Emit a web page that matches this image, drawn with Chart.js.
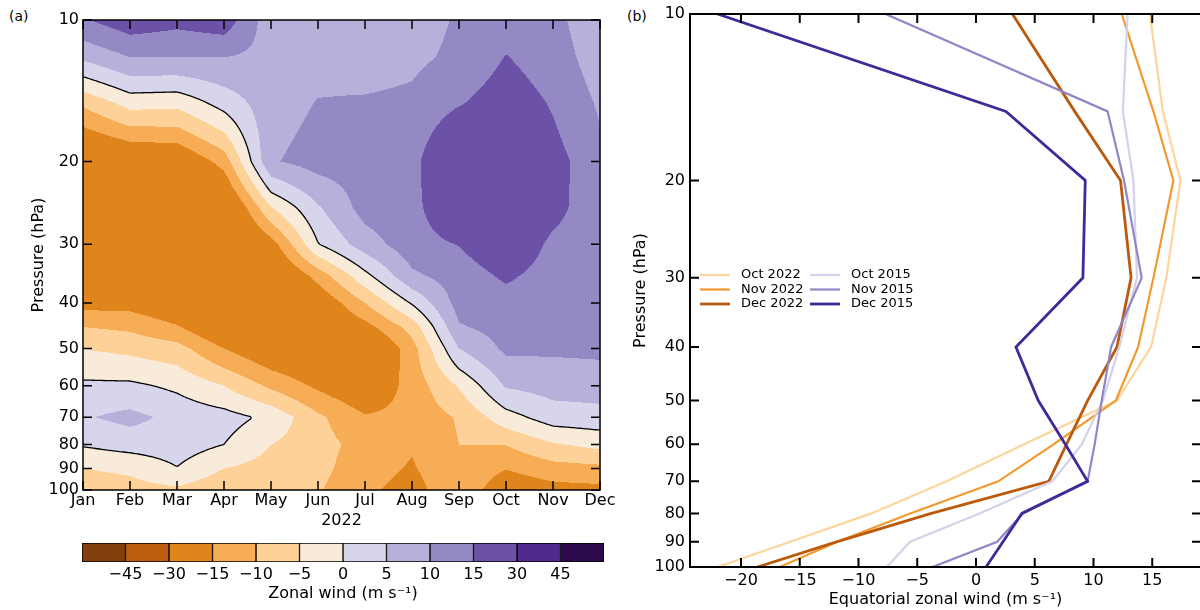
<!DOCTYPE html>
<html>
<head>
<meta charset="utf-8">
<script src="https://cdn.jsdelivr.net/npm/chart.js@4.4.1/dist/chart.umd.min.js"></script>
<style>
  html, body { margin: 0; padding: 0; background: #fff; width: 1200px; height: 610px; overflow: hidden; }
  canvas { position: absolute; }
  #windMap { left: 0; top: 0; }
  #windBar { left: 0; top: 530px; }
  #profiles { left: 620px; top: 0; }
  .panel { position: absolute; font: 14px "DejaVu Sans", sans-serif; color: #000; }
</style>
</head>
<body>
<div class="panel" style="left:9px; top:8px;">(a)</div>
<div class="panel" style="left:627px; top:8px;">(b)</div>
<canvas id="windMap" width="620" height="530"></canvas>
<canvas id="windBar" width="620" height="80"></canvas>
<canvas id="profiles" width="582" height="610"></canvas>
<script>
// ---- panel (a): monthly mean zonal wind 2022, by pressure level ----
const months = ['Jan', 'Feb', 'Mar', 'Apr', 'May', 'Jun', 'Jul', 'Aug', 'Sep', 'Oct', 'Nov', 'Dec'];
const levels = [10, 12, 15, 20, 25, 30, 35, 40, 45, 50, 60, 70, 80, 90, 100];
const uJan = [14.5, 6, -9, -25, -26, -26, -24, -17, -10, -5, 1, 4.5, 0.5, -5, -8];
const uFeb = [18, 10, -3, -22, -26, -27, -26, -17, -11, -6.3, 1, 6.5, 2, -4, -7];
const uMar = [16.5, 10, -3.5, -21, -26, -28, -27, -20, -14.5, -8, -1, 3.5, 2.5, -0.2, -6];
const uApr = [18, 10, 2, -13, -24, -28, -29, -26, -21, -15, -5, 2, 0, -5, -9];
const uMay = [7, 8.5, 8, 9.5, -5, -17.5, -24, -28, -29, -20, -11, -1.2, -5, -7, -10];
const uJun = [7.5, 8.5, 10.2, 12, 4.5, -0.2, -13, -20, -22, -22, -16, -9, -8, -8.5, -9.5];
const uJul = [7.5, 8, 10.5, 12, 12, 7.5, -1.5, -10, -17, -24, -20, -14.5, -12, -13, -14];
const uAug = [8, 9, 11, 13, 13.5, 13, 9, 0.5, -8, -12, -13, -13.5, -14.5, -15.5, -17];
const uSep = [10.5, 11, 14.5, 24, 20, 15.2, 12.5, 12, 9.5, 5, -4.5, -9.5, -10, -11, -11];
const uOct = [13, 15.2, 18, 21, 21, 19, 15.8, 13, 12, 11, 5.5, -2, -9.8, -14.8, -19];
const uNov = [11.5, 12.5, 14.5, 17, 16.5, 14, 13, 12.5, 12, 10.8, 7, 2.5, -5.5, -12, -17];
const uDec = [6.5, 7.5, 9.3, 11.5, 12, 12.5, 12.5, 12.5, 12, 11, 7.5, 3, -3.5, -11.3, -16.5];
const windGrid = [uJan, uFeb, uMar, uApr, uMay, uJun, uJul, uAug, uSep, uOct, uNov, uDec];

const windBounds = [-45, -30, -15, -10, -5, 0, 5, 10, 15, 30, 45];
const windColors = ['#84400c', '#bd5e0e', '#e0841c', '#f6ad55', '#fdd197', '#f8ebd9',
                    '#d6d5ec', '#b6b0da', '#9489c4', '#6c52a6', '#502a8d', '#2d0b4e'];
const cbarLabels = ['\u221245', '\u221230', '\u221215', '\u221210', '\u22125', '0', '5', '10', '15', '30', '45'];
const pressureTicks = [10, 20, 30, 40, 50, 60, 70, 80, 90, 100];

// ---- panel (b): equatorial zonal wind profiles ----
const profLevels = [10, 15, 20, 30, 40, 50, 60, 70, 80, 90, 100];
const oct2022 = [14.8, 15.9, 17.4, 16.2, 14.9, 12.0, 4.1, -2.5, -8.9, -15.8, -22.0];
const nov2022 = [12.4, 15.1, 16.8, 15.1, 13.8, 11.9, 6.6, 1.9, -5.6, -11.8, -16.7];
const dec2022 = [3.1, 8.4, 12.3, 13.2, 12.0, 9.5, 7.7, 6.2, -3.8, -11.8, -18.6];
const oct2015 = [12.9, 12.5, 13.4, 13.7, 12.2, 10.8, 9.0, 6.5, 0.3, -5.6, -7.6];
const nov2015 = [-7.7, 11.2, 12.6, 14.1, 11.5, 10.7, 10.1, 9.5, 4.0, 1.8, -3.7];
const dec2015 = [-22.0, 2.55, 9.3, 9.1, 3.4, 5.3, 7.6, 9.5, 3.9, 2.3, 0.85];
const windTicks = [-20, -15, -10, -5, 0, 5, 10, 15];

Chart.defaults.font.family = '"DejaVu Sans", sans-serif';
Chart.defaults.font.size = 16;
Chart.defaults.color = '#000';

const minusFmt = v => (v < 0 ? '\u2212' + Math.abs(v) : String(v));

function hexRgb(h) {
  return [parseInt(h.slice(1, 3), 16), parseInt(h.slice(3, 5), 16), parseInt(h.slice(5, 7), 16)];
}

function binOf(v) {
  let k = 0;
  while (k < windBounds.length && v >= windBounds[k]) k++;
  return k;
}

// bilinear in (month, pressure)
function windAt(m, p) {
  const i = Math.min(Math.max(Math.floor(m), 0), months.length - 2);
  const t = m - i;
  let j = 0;
  while (j < levels.length - 2 && p > levels[j + 1]) j++;
  const s = (p - levels[j]) / (levels[j + 1] - levels[j]);
  const a = windGrid[i][j], b = windGrid[i + 1][j];
  const c = windGrid[i][j + 1], d = windGrid[i + 1][j + 1];
  return (1 - t) * (1 - s) * a + t * (1 - s) * b + (1 - t) * s * c + t * s * d;
}

const contourPlugin = {
  id: 'contour',
  beforeDatasetsDraw(chart) {
    const { ctx, chartArea: ca, scales: { x, y } } = chart;
    const x0 = Math.round(ca.left), y0 = Math.round(ca.top);
    const w = Math.round(ca.right) - x0, h = Math.round(ca.bottom) - y0;
    const img = ctx.createImageData(w, h);
    const field = new Float32Array(w * h);
    const rgb = windColors.map(hexRgb);
    const mCol = [];
    for (let c = 0; c < w; c++) mCol.push(x.getValueForPixel(x0 + c + 0.5));
    for (let r = 0; r < h; r++) {
      const p = y.getValueForPixel(y0 + r + 0.5);
      for (let c = 0; c < w; c++) {
        const v = windAt(mCol[c], p);
        field[r * w + c] = v;
        const col = rgb[binOf(v)];
        const k = 4 * (r * w + c);
        img.data[k] = col[0]; img.data[k + 1] = col[1]; img.data[k + 2] = col[2]; img.data[k + 3] = 255;
      }
    }
    ctx.putImageData(img, x0, y0);

    // zero wind line, marching squares on the sampled field
    const st = 2;
    const f = (c, r) => field[Math.min(r, h - 1) * w + Math.min(c, w - 1)];
    ctx.save();
    ctx.beginPath();
    for (let r = 0; r < h - 1; r += st) {
      for (let c = 0; c < w - 1; c += st) {
        const c2 = Math.min(c + st, w - 1), r2 = Math.min(r + st, h - 1);
        const a = f(c, r), b = f(c2, r), cc = f(c2, r2), d = f(c, r2);
        const pts = [];
        if ((a >= 0) !== (b >= 0)) pts.push([c + (c2 - c) * a / (a - b), r]);
        if ((b >= 0) !== (cc >= 0)) pts.push([c2, r + (r2 - r) * b / (b - cc)]);
        if ((d >= 0) !== (cc >= 0)) pts.push([c + (c2 - c) * d / (d - cc), r2]);
        if ((a >= 0) !== (d >= 0)) pts.push([c, r + (r2 - r) * a / (a - d)]);
        for (let q = 0; q + 1 < pts.length; q += 2) {
          ctx.moveTo(x0 + pts[q][0] + 0.5, y0 + pts[q][1] + 0.5);
          ctx.lineTo(x0 + pts[q + 1][0] + 0.5, y0 + pts[q + 1][1] + 0.5);
        }
      }
    }
    ctx.strokeStyle = '#000';
    ctx.lineWidth = 1.3;
    ctx.stroke();
    ctx.restore();
  }
};

const framePlugin = {
  id: 'frame',
  afterDraw(chart, args, opts) {
    const { ctx, chartArea: ca, scales: { x, y } } = chart;
    const len = opts.tickLength;
    ctx.save();
    ctx.strokeStyle = '#000';
    ctx.lineWidth = opts.lineWidth;
    ctx.beginPath();
    x.ticks.forEach(t => {
      const px = x.getPixelForValue(t.value);
      ctx.moveTo(px, ca.top); ctx.lineTo(px, ca.top + len);
      ctx.moveTo(px, ca.bottom); ctx.lineTo(px, ca.bottom - len);
    });
    y.ticks.forEach(t => {
      const py = y.getPixelForValue(t.value);
      ctx.moveTo(ca.left, py); ctx.lineTo(ca.left + len, py);
      ctx.moveTo(ca.right, py); ctx.lineTo(ca.right - len, py);
    });
    ctx.stroke();
    ctx.strokeRect(ca.left, ca.top, ca.right - ca.left, ca.bottom - ca.top);
    ctx.restore();
  }
};

const legendPlugin = {
  id: 'profLegend',
  afterDatasetsDraw(chart) {
    const { ctx, chartArea: ca } = chart;
    ctx.save();
    ctx.font = '13px "DejaVu Sans", sans-serif';
    ctx.textBaseline = 'middle';
    ctx.fillStyle = '#000';
    chart.data.datasets.forEach((ds, i) => {
      const col = Math.floor(i / 3), row = i % 3;
      const lx = ca.left + 10 + col * 110, ly = ca.top + 261 + row * 14.5;
      ctx.strokeStyle = ds.borderColor;
      ctx.lineWidth = ds.borderWidth;
      ctx.beginPath(); ctx.moveTo(lx, ly); ctx.lineTo(lx + 30, ly); ctx.stroke();
      ctx.fillText(ds.label, lx + 41, ly);
    });
    ctx.restore();
  }
};

const noPad = s => { s.paddingLeft = 0; s.paddingRight = 0; s.paddingTop = 0; s.paddingBottom = 0; };
const noGrid = { display: false, drawTicks: false };

// panel (a)
new Chart(document.getElementById('windMap'), {
  type: 'scatter',
  data: { datasets: [] },
  options: {
    responsive: false, animation: false, events: [],
    layout: { padding: { top: 20, right: 20, bottom: 0, left: 0 } },
    plugins: { legend: { display: false }, tooltip: { enabled: false }, frame: { lineWidth: 1.5, tickLength: 9 } },
    scales: {
      x: {
        type: 'linear', min: 0, max: months.length - 1,
        afterBuildTicks: s => { s.ticks = months.map((m, i) => ({ value: i })); },
        afterFit: s => { s.height = 40; noPad(s); },
        grid: noGrid, border: { display: false },
        ticks: { autoSkip: false, maxRotation: 0, padding: 1, callback: v => months[v] },
        title: { display: true, text: '2022', padding: { top: 0, bottom: 0 } }
      },
      y: {
        type: 'logarithmic', reverse: true, min: 10, max: 100,
        afterBuildTicks: s => { s.ticks = pressureTicks.map(v => ({ value: v })); },
        afterFit: s => { s.width = 83; noPad(s); },
        grid: noGrid, border: { display: false },
        ticks: { autoSkip: false, padding: 4, callback: v => String(v) },
        title: { display: true, text: 'Pressure (hPa)', padding: { top: 29, bottom: 0 } }
      }
    }
  },
  plugins: [contourPlugin, framePlugin]
});

// colour bar
new Chart(document.getElementById('windBar'), {
  type: 'bar',
  data: {
    labels: [''],
    datasets: windColors.map(c => ({
      data: [1], backgroundColor: c, borderColor: '#000', borderWidth: 1,
      borderSkipped: false, barPercentage: 1, categoryPercentage: 1
    }))
  },
  options: {
    indexAxis: 'y', responsive: false, animation: false, events: [],
    layout: { padding: { top: 13, right: 16, bottom: 0, left: 82 } },
    plugins: { legend: { display: false }, tooltip: { enabled: false } },
    scales: {
      x: {
        type: 'linear', stacked: true, min: 0, max: windColors.length,
        afterBuildTicks: s => { s.ticks = cbarLabels.map((l, i) => ({ value: i + 1 })); },
        afterFit: s => { s.height = 48; noPad(s); },
        grid: noGrid, border: { display: false },
        ticks: { autoSkip: false, maxRotation: 0, padding: 3, callback: v => cbarLabels[v - 1] },
        title: { display: true, text: 'Zonal wind (m s\u207B\u00B9)', padding: { top: 0, bottom: 7 } }
      },
      y: { stacked: true, display: false }
    }
  }
});

// panel (b)
const profileSeries = [
  { label: 'Oct 2022', values: oct2022, color: '#fdd59c', width: 2.2 },
  { label: 'Nov 2022', values: nov2022, color: '#f29a2e', width: 2.2 },
  { label: 'Dec 2022', values: dec2022, color: '#bb5a0c', width: 2.8 },
  { label: 'Oct 2015', values: oct2015, color: '#d4d1ea', width: 2.2 },
  { label: 'Nov 2015', values: nov2015, color: '#9087c6', width: 2.2 },
  { label: 'Dec 2015', values: dec2015, color: '#402a98', width: 2.8 }
];

new Chart(document.getElementById('profiles'), {
  type: 'scatter',
  data: {
    datasets: profileSeries.map((s, i) => ({
      label: s.label,
      data: profLevels.map((p, k) => ({ x: s.values[k], y: p })),
      showLine: true, pointRadius: 0, borderColor: s.color, borderWidth: s.width,
      fill: false, tension: 0, order: profileSeries.length - i
    }))
  },
  options: {
    responsive: false, animation: false, events: [],
    layout: { padding: { top: 14, right: 1, bottom: 0, left: 0 } },
    plugins: { legend: { display: false }, tooltip: { enabled: false }, frame: { lineWidth: 2, tickLength: 9 } },
    scales: {
      x: {
        type: 'linear', min: -24.34, max: 19.15,
        afterBuildTicks: s => { s.ticks = windTicks.map(v => ({ value: v })); },
        afterFit: s => { s.height = 43; noPad(s); },
        grid: noGrid, border: { display: false },
        ticks: { autoSkip: false, maxRotation: 0, padding: 4, callback: v => minusFmt(v) },
        title: { display: true, text: 'Equatorial zonal wind (m s\u207B\u00B9)', padding: { top: 0, bottom: 1 } }
      },
      y: {
        type: 'logarithmic', reverse: true, min: 10, max: 100,
        afterBuildTicks: s => { s.ticks = pressureTicks.map(v => ({ value: v })); },
        afterFit: s => { s.width = 70; noPad(s); },
        grid: noGrid, border: { display: false },
        ticks: { autoSkip: false, padding: 5, callback: v => String(v) },
        title: { display: true, text: 'Pressure (hPa)', padding: { top: 11, bottom: 0 } }
      }
    }
  },
  plugins: [framePlugin, legendPlugin]
});
</script>
</body>
</html>
